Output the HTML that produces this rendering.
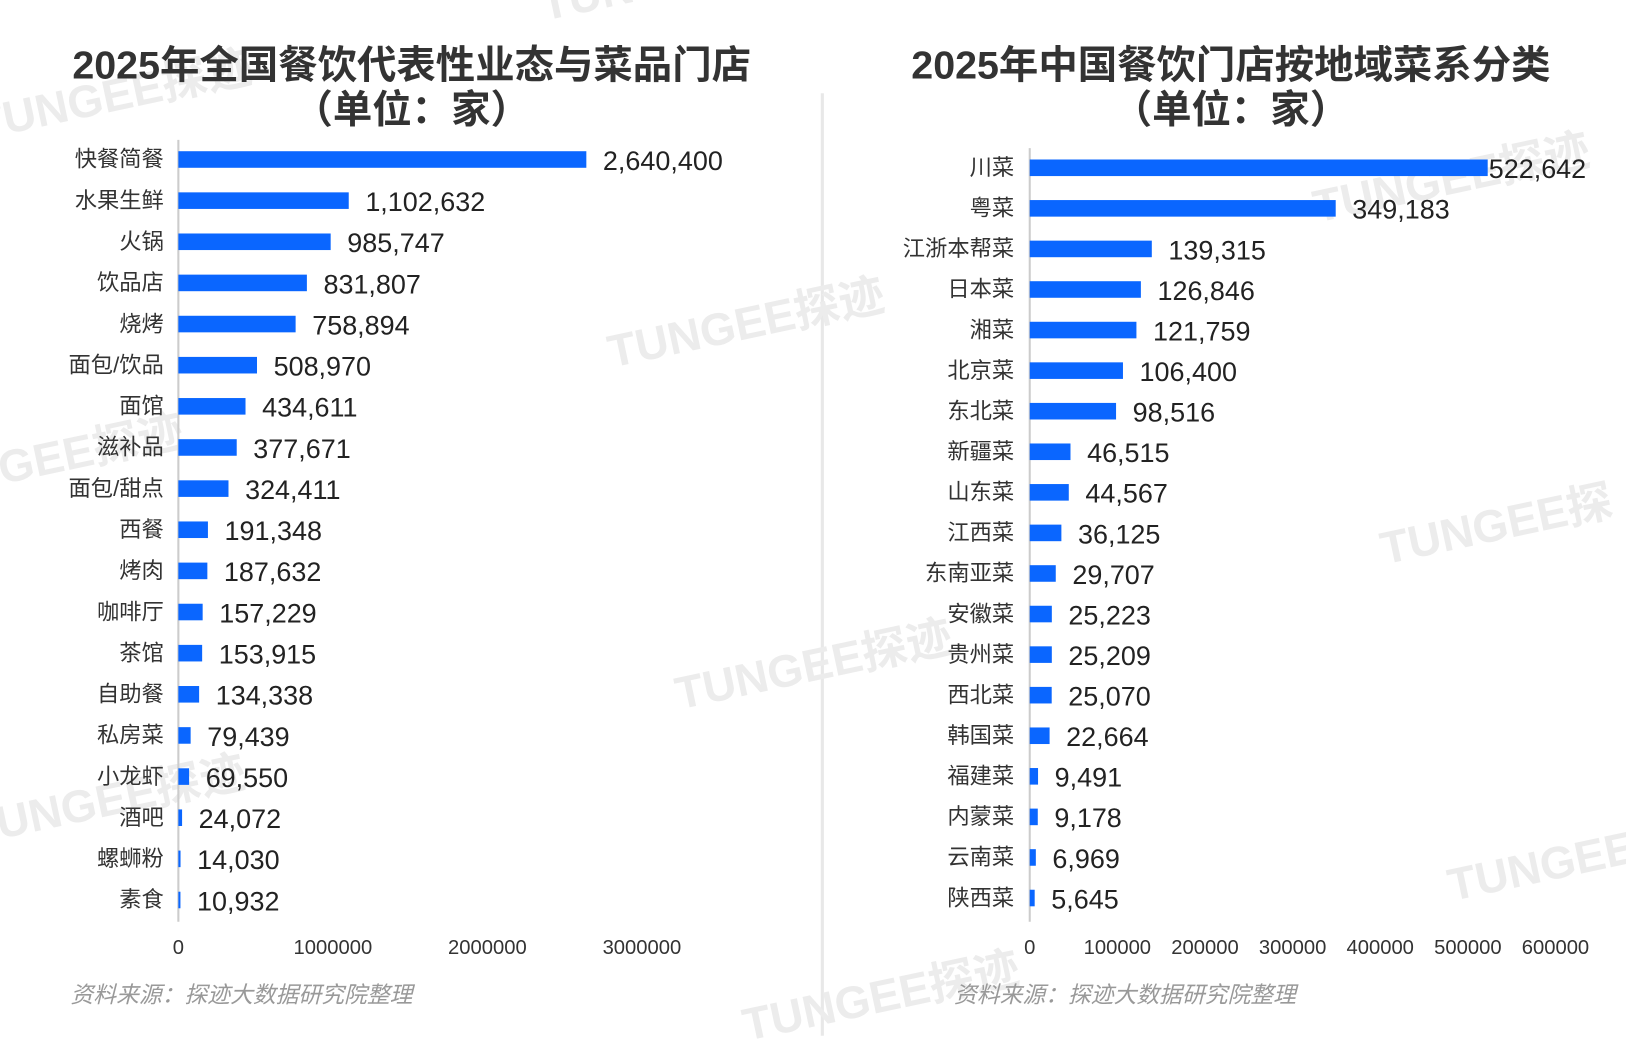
<!DOCTYPE html>
<html><head><meta charset="utf-8"><style>
html,body{margin:0;padding:0;background:#fff;}
svg{display:block;font-family:"Liberation Sans","Noto Sans CJK SC",sans-serif;}
</style></head><body>
<svg id="s" width="1626" height="1044" viewBox="0 0 1568 1008" preserveAspectRatio="none" xmlns="http://www.w3.org/2000/svg">
<rect width="1568" height="1008" fill="#fff"/>
<line x1="793" y1="90" x2="793" y2="1000" stroke="#e8e8e8" stroke-width="3"/>
<g fill="#ececec" font-weight="bold" font-size="44">
<text x="590" y="355" transform="rotate(-12 590 355)">TUNGEE探迹</text>
<text x="655" y="685" transform="rotate(-12 655 685)">TUNGEE探迹</text>
<text x="720" y="1005" transform="rotate(-12 720 1005)">TUNGEE探迹</text>
<text x="1270" y="215" transform="rotate(-12 1270 215)">TUNGEE探迹</text>
<text x="1335" y="545" transform="rotate(-12 1335 545)">TUNGEE探</text>
<text x="1400" y="870" transform="rotate(-12 1400 870)">TUNGEE</text>
<text x="-20" y="135" transform="rotate(-12 -20 135)">TUNGEE探迹</text>
<text x="-10" y="470" transform="rotate(-12 -10 470)">IGEE探迹</text>
<text x="0" y="810" transform="rotate(-12 0 810)">UNGEE探迹</text>
<text x="525" y="20" transform="rotate(-12 525 20)">TUNGEE</text>
</g>
<g font-weight="bold" font-size="38" fill="#333" text-anchor="middle">
<text x="397" y="76">2025年全国餐饮代表性业态与菜品门店</text>
<text x="397" y="119">（单位：家）</text>
<text x="1187" y="76">2025年中国餐饮门店按地域菜系分类</text>
<text x="1187" y="119">（单位：家）</text>
</g>
<g font-size="22" fill="#999" font-style="italic">
<text x="68" y="968">资料来源：探迹大数据研究院整理</text>
<text x="920" y="968">资料来源：探迹大数据研究院整理</text>
</g>
<g id="g"></g>
</svg>
<script>
var g=document.getElementById('g'),h='';
function chart(cats,vals,x0,scale,y0,step,labX,ticks,tickStep,tickPx,axTop,axBot,first){
 h+='<line x1="'+x0+'" y1="'+axTop+'" x2="'+x0+'" y2="'+axBot+'" stroke="#ccc" stroke-width="2"/>';
 for(var i=0;i<cats.length;i++){var y=y0+i*step,w=Math.max(vals[i]*scale,2);
  h+='<rect x="'+x0+'" y="'+(y-8)+'" width="'+w+'" height="16" fill="#0a66ff"/>';
  h+='<text x="'+labX+'" y="'+(y+7)+'" font-size="21.5" fill="#333" text-anchor="end">'+cats[i]+'</text>';
  var off=(i==0&&first!=null)?first:16;
  h+='<text x="'+(x0+w+off)+'" y="'+(y+10)+'" font-size="26" fill="#222">'+vals[i].toLocaleString('en-US')+'</text>';}
 for(var t=0;t<ticks;t++){h+='<text x="'+(x0+t*tickPx)+'" y="921" font-size="19.5" fill="#333" text-anchor="middle">'+(t*tickStep)+'</text>';}
}
chart(['快餐简餐','水果生鲜','火锅','饮品店','烧烤','面包/饮品','面馆','滋补品','面包/甜点','西餐','烤肉','咖啡厅','茶馆','自助餐','私房菜','小龙虾','酒吧','螺蛳粉','素食'],
[2640400,1102632,985747,831807,758894,508970,434611,377671,324411,191348,187632,157229,153915,134338,79439,69550,24072,14030,10932],
172,447/3000000,154,39.72,158,4,1000000,149,135,890,null);
chart(['川菜','粤菜','江浙本帮菜','日本菜','湘菜','北京菜','东北菜','新疆菜','山东菜','江西菜','东南亚菜','安徽菜','贵州菜','西北菜','韩国菜','福建菜','内蒙菜','云南菜','陕西菜'],
[522642,349183,139315,126846,121759,106400,98516,46515,44567,36125,29707,25223,25209,25070,22664,9491,9178,6969,5645],
993,84.5/100000,162,39.17,978,7,100000,84.5,143,890,1);
g.innerHTML=h;
</script>
</body></html>
